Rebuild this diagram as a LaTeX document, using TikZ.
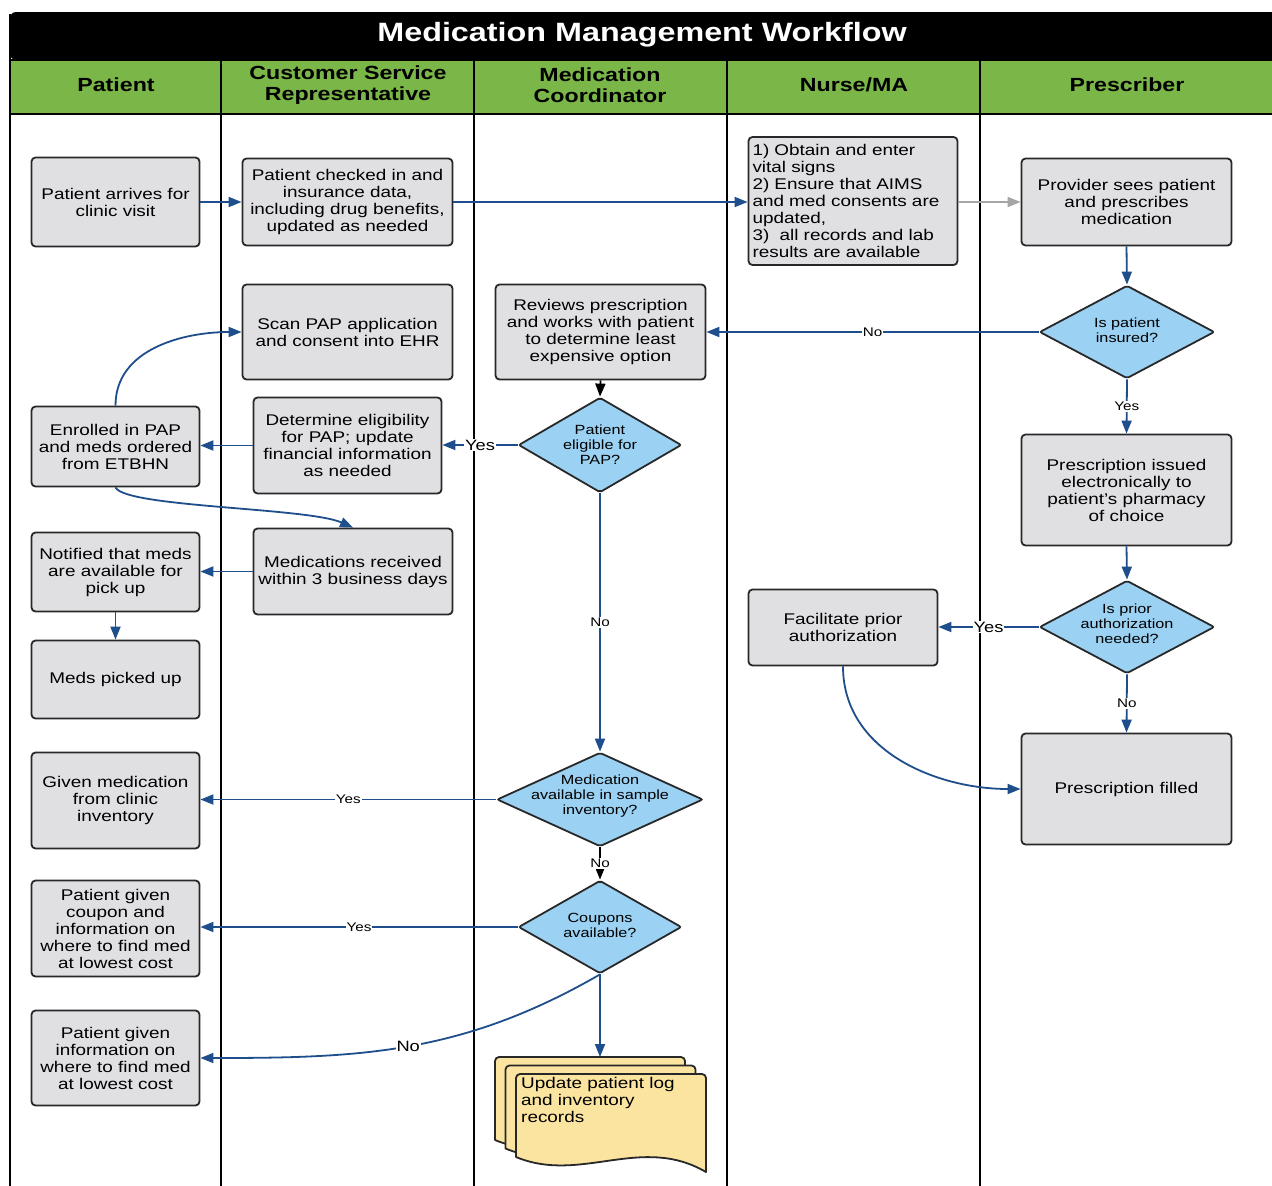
\documentclass[tikz,border=0pt]{standalone}
\usepackage{fontspec}
\setmainfont{Liberation Sans}[FakeStretch=1.22]
\usetikzlibrary{shapes.geometric,arrows.meta}

\definecolor{boxfill}{RGB}{224,223,226}
\definecolor{boxline}{RGB}{40,40,40}
\definecolor{decfill}{RGB}{155,209,242}
\definecolor{docfill}{RGB}{250,228,160}
\definecolor{lanegreen}{RGB}{122,182,72}
\definecolor{flowblue}{RGB}{31,78,140}
\definecolor{flowgray}{RGB}{165,165,165}

\newcommand\txttitle{\fontsize{26.5}{30}\bfseries\selectfont}
\newcommand\txthead{\fontsize{19}{21.5}\bfseries\selectfont}
\newcommand\txtbox{\fontsize{15.5}{17}\selectfont}
\newcommand\txtdec{\fontsize{13.3}{15}\selectfont}
\newcommand\txtsmall{\fontsize{12.5}{14}\selectfont}
\newcommand\txtbig{\fontsize{15}{17}\selectfont}

\begin{document}
\begin{tikzpicture}[x=1pt,y=1pt,
  proc/.style={draw=boxline, line width=1.8pt, fill=boxfill, rounded corners=4pt,
    inner sep=2pt, align=center, font=\txtbox},
  dec/.style={diamond, draw=boxline, line width=1.8pt, fill=decfill, rounded corners=2pt,
    inner sep=0pt},
  dectext/.style={align=center, font=\txtdec},
  flow/.style={draw=flowblue, line width=1.8pt, -{Triangle[length=13pt,width=10pt]}},
  smalllbl/.style={fill=white, inner sep=1pt, font=\txtsmall, text=black},
  biglbl/.style={fill=white, inner sep=1pt, font=\txtbig, text=black},
  lane/.style={draw=black, line width=2pt},
  headtext/.style={align=center, font=\txthead},
  docpage/.style={draw=boxline, line width=1.8pt, fill=docfill, line join=round}
]
\useasboundingbox (0,0) rectangle (1272,-1186);
\clip (0,0) rectangle (1272,-1186);
\fill[white] (0,0) rectangle (1272,-1186);

% title bar and lane headers
\fill[black, rounded corners=6pt] (10,-60) -- (10,-12) -- (1290,-12) -- (1290,-60) -- cycle;
\node[text=white, font=\txttitle] (title) at (642,-35) {Medication Management Workflow};
\fill[lanegreen] (10,-60) rectangle (1290,-114);
\draw[lane] (10,-60) -- (1290,-60);
\draw[lane] (10,-114) -- (1290,-114);
\draw[lane] (10,-14) -- (10,-1200);
\foreach \lx in {221,474,727,980} \draw[lane] (\lx,-60) -- (\lx,-1200);

\node[headtext] (hPatient) at (116,-85) {Patient};
\node[headtext] (hCSR) at (348,-85) {Customer Service\\Representative};
\node[headtext] (hMC) at (600,-85) {Medication\\Coordinator};
\node[headtext] (hNurse) at (854,-85) {Nurse/MA};
\node[headtext] (hPresc) at (1127,-85) {Prescriber};

% process boxes
\node[proc, minimum width=168, minimum height=89] (arrive) at (115.5,-202) {Patient arrives for\\clinic visit};
\node[proc, minimum width=210, minimum height=87] (checkin) at (347.5,-202) {Patient checked in and\\insurance data,\\including drug benefits,\\updated as needed};
\node[proc, align=left, text width=201, inner xsep=4pt, minimum height=128] (nurse) at (853,-201)
  {1) Obtain and enter\\vital signs\\2) Ensure that AIMS\\and med consents are\\updated,\\3)~~all records and lab\\results are available};
\node[proc, minimum width=210, minimum height=87] (provider) at (1126.5,-202) {Provider sees patient\\and prescribes\\medication};
\node[proc, minimum width=210, minimum height=95] (scan) at (347.5,-332) {Scan PAP application\\and consent into EHR};
\node[proc, minimum width=210, minimum height=95] (reviews) at (600.5,-332) {Reviews prescription\\and works with patient\\to determine least\\expensive option};
\node[proc, minimum width=168, minimum height=80] (enrolled) at (115.5,-446.5) {Enrolled in PAP\\and meds ordered\\from ETBHN};
\node[proc, minimum width=188, minimum height=96] (eligibility) at (347.5,-445.5) {Determine eligibility\\for PAP; update\\financial information\\as needed};
\node[proc, minimum width=210, minimum height=111] (issued) at (1126.5,-490) {Prescription issued\\electronically to\\patient's pharmacy\\of choice};
\node[proc, minimum width=168, minimum height=79] (notified) at (115.5,-572) {Notified that meds\\are available for\\pick up};
\node[proc, minimum width=199, minimum height=86] (received) at (353,-571.5) {Medications received\\within 3 business days};
\node[proc, minimum width=168, minimum height=78] (pickedup) at (115.5,-679.5) {Meds picked up};
\node[proc, minimum width=189, minimum height=76] (facilitate) at (843,-627.5) {Facilitate prior\\authorization};
\node[proc, minimum width=210, minimum height=111] (filled) at (1126.5,-789) {Prescription filled};
\node[proc, minimum width=168, minimum height=96] (clinicinv) at (115.5,-800.5) {Given medication\\from clinic\\inventory};
\node[proc, minimum width=168, minimum height=96] (coupon) at (115.5,-928.5) {Patient given\\coupon and\\information on\\where to find med\\at lowest cost};
\node[proc, minimum width=168, minimum height=95] (lowcost) at (115.5,-1058) {Patient given\\information on\\where to find med\\at lowest cost};

% decisions
\node[dec, minimum width=175, minimum height=93,
  label={[dectext, yshift=2pt]center:{Is patient\\insured?}}] (insured) at (1127,-332) {};
\node[dec, minimum width=163, minimum height=95,
  label={[dectext]center:{Patient\\eligible for\\PAP?}}] (eligible) at (600,-445) {};
\node[dec, minimum width=175, minimum height=93,
  label={[dectext, yshift=3pt]center:{Is prior\\authorization\\needed?}}] (prior) at (1127,-627) {};
\node[dec, minimum width=206, minimum height=94,
  label={[dectext, yshift=3pt]center:{Medication\\available in sample\\inventory?}}] (sample) at (600,-799.5) {};
\node[dec, minimum width=163, minimum height=93,
  label={[dectext, yshift=2pt]center:{Coupons\\available?}}] (coupons) at (600,-927) {};

% stacked documents
\foreach \dx/\dy in {495/-1057, 505.5/-1065.5, 516/-1074} {
  \begin{scope}[shift={(\dx,\dy)}]
    \path[docpage] (0,-83) [rounded corners=4pt] -- (0,0) -- (190,0) [sharp corners] -- (190,-98)
      .. controls (125,-60) and (65,-110) .. (0,-83) -- cycle;
  \end{scope}
}
\node[anchor=north west, align=left, inner sep=0pt, font=\txtbox] (records) at (521,-1077)
  {Update patient log\\and inventory\\records};
\coordinate (docTop) at (600,-1057);

% connectors
\draw[flow] (arrive.east) -- (checkin.west);
\draw[flow] (checkin.east) -- (nurse.west |- checkin.east);
\draw[flow, draw=flowgray] (nurse.east |- provider.west) -- (provider.west);
\draw[flow] (provider.south) -- (insured.north);
\draw[flow] (insured.west) -- node[smalllbl]{No} (reviews.east |- insured.west);
\draw[flow] (insured.south) -- node[smalllbl]{Yes} (issued.north);
\draw[flow, draw=black] (reviews.south) -- (eligible.north);
\draw[flow] (eligible.west) -- node[biglbl]{Yes} (eligibility.east |- eligible.west);
\draw[flow] (eligibility.west) -- (enrolled.east |- eligibility.west);
\draw[flow] (enrolled.north) to[out=90,in=180] (scan.west);
\draw[flow] (enrolled.south) .. controls +(10,-20) and +(-45,20) .. (received.north);
\draw[flow] (received.west) -- (notified.east |- received.west);
\draw[flow] (notified.south) -- (pickedup.north);
\draw[flow] (eligible.south) -- node[smalllbl]{No} (sample.north);
\draw[flow] (sample.west) -- node[smalllbl]{Yes} (clinicinv.east |- sample.west);
\draw[flow, draw=black] (sample.south) -- node[smalllbl]{No} (coupons.north);
\draw[flow] (coupons.west) -- node[smalllbl]{Yes} (coupon.east |- coupons.west);
\draw[flow] (coupons.south) -- (docTop);
\draw[flow] (coupons.south) to[out=-150,in=0] node[pos=0.5, biglbl]{No} (lowcost.east);
\draw[flow] (issued.south) -- (prior.north);
\draw[flow] (prior.west) -- node[biglbl]{Yes} (facilitate.east |- prior.west);
\draw[flow] (prior.south) -- node[smalllbl]{No} (filled.north);
\draw[flow] (facilitate.south) to[out=-90,in=180] (filled.west);
\end{tikzpicture}
\end{document}
